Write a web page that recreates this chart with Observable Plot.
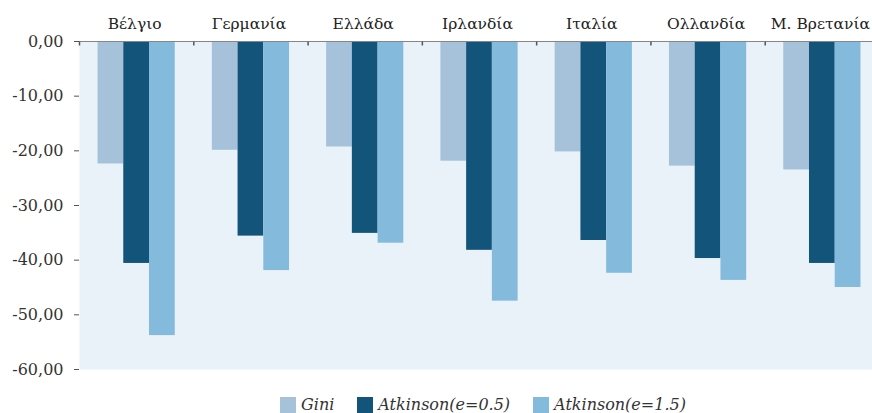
<!DOCTYPE html>
<html><head><meta charset="utf-8">
<script src="https://cdn.jsdelivr.net/npm/d3@7"></script>
<script src="https://cdn.jsdelivr.net/npm/@observablehq/plot@0.6"></script>
<style>
html,body{margin:0;padding:0;background:#fff;overflow:hidden;}
#chart{position:relative;width:872px;height:413px;overflow:hidden;}
#legend{position:absolute;left:280px;top:395px;}
.leg-swatches{font-family:"DejaVu Serif",serif !important;font-style:italic;font-size:16px !important;color:#333 !important;margin:0 !important;}
.leg-swatches-wrap{min-height:0 !important;}
.leg-swatch{margin-right:23px !important;}
.leg-swatch > svg{margin-right:5px !important;}
</style></head><body><div id="chart"><div id="plot"></div><div id="legend"></div></div>
<script>
const countries = ["Βέλγιο","Γερμανία","Ελλάδα","Ιρλανδία","Ιταλία","Ολλανδία","Μ. Βρετανία"];
const series = ["Gini","Atkinson(e=0.5)","Atkinson(e=1.5)"];
const gini  = [-22.4, -19.9, -19.3, -21.9, -20.2, -22.8, -23.5];
const atk05 = [-40.6, -35.6, -35.1, -38.2, -36.4, -39.7, -40.6];
const atk15 = [-53.8, -41.9, -36.9, -47.5, -42.4, -43.7, -45.0];
const colors = ["#A6C2DB","#13547A","#84BBDD"];
const yTicks = [0,-10,-20,-30,-40,-50,-60];

const values = [gini, atk05, atk15];
const data = countries.flatMap((c,i) => series.map((s,j) => ({country:c, series:s, value:values[j][i]})));
const fmt = d => d.toFixed(2).replace(".", ",");
const tickSym = {draw(ctx){ ctx.moveTo(0,0); ctx.lineTo(0,4); }};

const plot = Plot.plot({
  width: 872, height: 385,
  marginLeft: 79, marginRight: -7, marginTop: 41, marginBottom: 16,
  style: {fontFamily: "DejaVu Serif, serif", fontSize: "16px", color: "#333", background: "transparent", overflow: "hidden"},
  fx: {domain: countries, padding: 0, round: false, axis: null},
  x: {domain: series, paddingInner: 0, paddingOuter: 0.72, round: false, axis: null},
  y: {domain: [-60, 0], axis: null},
  color: {domain: series, range: colors},
  marks: [
    Plot.frame({fill: "#EAF2F9", facet: "super"}),
    Plot.barY(data, {fx: "country", x: "series", y1: 0, y2: "value", fill: "series"}),
    Plot.ruleY([0], {stroke: "#868686"}),
    Plot.dot(countries, {fx: d => d, frameAnchor: "top-left", symbol: tickSym, stroke: "#555", fill: "none"}),
    Plot.axisY({ticks: yTicks, tickFormat: fmt, tickSize: 5, tickPadding: 11, stroke: "#555", fill: "#333", label: null, line: true}),
    Plot.axisFx({anchor: "top", tickSize: 0, tickPadding: 13, dx: -2, fill: "#222", label: null, fontSize: 15.5})
  ]
});
document.getElementById("plot").appendChild(plot);

const leg = Plot.legend({color: {domain: series, range: colors}, className: "leg", swatchSize: 16});
document.getElementById("legend").appendChild(leg);
</script></body></html>
